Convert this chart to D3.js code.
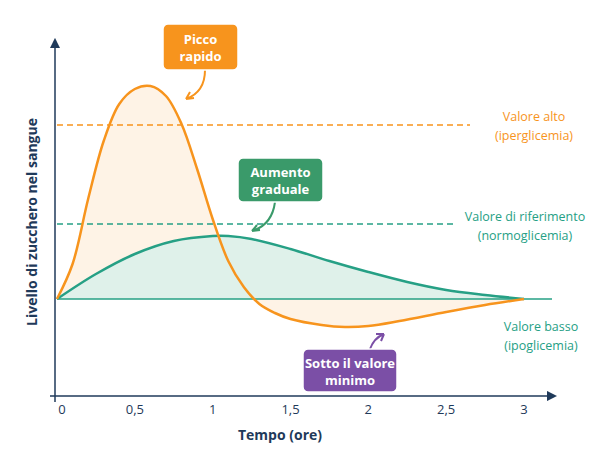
<!DOCTYPE html>
<html><head><meta charset="utf-8">
<script src="https://cdn.jsdelivr.net/npm/d3@7"></script>
<style>body{margin:0;background:#fff}text{font-family:"Open Sans",sans-serif}</style>
</head><body><div class="chart"></div>
<script>
const xTicks = [0, 0.5, 1, 1.5, 2, 2.5, 3];
const xTickLabels = ['0', '0,5', '1', '1,5', '2', '2,5', '3'];
const fastTime = [0, 0.1, 0.2, 0.3, 0.4, 0.5, 0.6, 0.7, 0.8, 0.9, 1.0, 1.1, 1.2, 1.3, 1.4, 1.5, 1.7, 1.85, 2.0, 2.2, 2.5, 2.75, 3];
const fastLevel = [0, 35, 100, 158, 195, 210, 213, 203, 175, 130, 80, 38, 12, -5, -14, -20, -26, -28, -27, -22, -13, -6, 0];
const slowTime = [0, 0.25, 0.5, 0.75, 1.0, 1.1, 1.25, 1.5, 1.75, 2, 2.25, 2.5, 2.75, 3];
const slowLevel = [0, 25, 45, 58, 63, 63, 60, 50, 38, 27, 17, 9, 4, 0];
const highLevel = 174, refLevel = 75;

const W = 602, H = 460;
const orange = '#f7941d', teal = '#26a085', purple = '#7b4fa6', navy = '#1f3a5a';
const svg = d3.select('.chart').append('svg').attr('width', W).attr('height', H);

const x = d3.scaleLinear().domain([0, 3]).range([57, 524]);
const y = d3.scaleLinear().domain([-97, 257]).range([396, 42]);

const fast = fastTime.map((t, i) => ({t, v: fastLevel[i]}));
const slow = slowTime.map((t, i) => ({t, v: slowLevel[i]}));
const line = d3.line().curve(d3.curveCatmullRom).x(d => x(d.t)).y(d => y(d.v));
const area = d3.area().curve(d3.curveCatmullRom).x(d => x(d.t)).y0(y(0)).y1(d => y(d.v));

svg.append('path').datum(fast).attr('d', area).attr('fill', '#fef3e6');
svg.append('path').datum(slow).attr('d', area).attr('fill', '#dff1ea');

// reference lines
svg.append('line').attr('x1', x(0)).attr('x2', 470).attr('y1', y(highLevel)).attr('y2', y(highLevel))
  .attr('stroke', orange).attr('stroke-width', 1.5).attr('stroke-dasharray', '6,4');
svg.append('line').attr('x1', x(0)).attr('x2', 455).attr('y1', y(refLevel)).attr('y2', y(refLevel))
  .attr('stroke', teal).attr('stroke-width', 1.5).attr('stroke-dasharray', '6,4');
svg.append('line').attr('x1', x(0)).attr('x2', 552).attr('y1', y(0)).attr('y2', y(0))
  .attr('stroke', teal).attr('stroke-width', 1.5);

svg.append('path').datum(slow).attr('d', line).attr('fill', 'none').attr('stroke', teal).attr('stroke-width', 2.5);
svg.append('path').datum(fast).attr('d', line).attr('fill', 'none').attr('stroke', orange).attr('stroke-width', 2.5);

// axes
const defs = svg.append('defs');
defs.append('marker').attr('id', 'ar').attr('viewBox', '0 0 10 10').attr('refX', 8).attr('refY', 5)
  .attr('markerWidth', 7).attr('markerHeight', 7).attr('orient', 'auto')
  .append('path').attr('d', 'M0,0L10,5L0,10z').attr('fill', navy);
svg.append('line').attr('x1', 50).attr('x2', 555).attr('y1', 396).attr('y2', 396)
  .attr('stroke', navy).attr('stroke-width', 1.5).attr('marker-end', 'url(#ar)');
svg.append('line').attr('x1', 55).attr('x2', 55).attr('y1', 402).attr('y2', 40)
  .attr('stroke', navy).attr('stroke-width', 1.5).attr('marker-end', 'url(#ar)');

svg.selectAll('.xt').data(xTicks).join('text').attr('class', 'xt')
  .attr('x', (d, i) => i === 0 ? x(d) + 5 : x(d)).attr('y', 414).attr('text-anchor', 'middle')
  .attr('font-size', 13).attr('fill', navy).text((d, i) => xTickLabels[i]);

svg.append('text').attr('x', 280).attr('y', 440).attr('text-anchor', 'middle').attr('font-size', 14)
  .attr('font-weight', 700).attr('fill', navy).text('Tempo (ore)');
svg.append('text').attr('transform', 'translate(37,222) rotate(-90)').attr('text-anchor', 'middle')
  .attr('font-size', 14).attr('font-weight', 700).attr('fill', navy).text('Livello di zucchero nel sangue');

// right labels
function twoLines(lines, cx, cy, color, anchor) {
  const t = svg.append('text').attr('x', cx).attr('y', cy).attr('text-anchor', anchor || 'middle')
    .attr('font-size', 12.5).attr('fill', color);
  lines.forEach((s, i) => t.append('tspan').attr('x', cx).attr('dy', i ? 19 : 0).text(s));
}
twoLines(['Valore alto', '(iperglicemia)'], 534, 121, orange);
twoLines(['Valore di riferimento', '(normoglicemia)'], 525, 221, teal);
twoLines(['Valore basso', '(ipoglicemia)'], 541, 331, teal);

// callouts
function callout(lines, bx, by, bw, bh, color, arrow) {
  svg.append('path').attr('d', arrow).attr('fill', 'none').attr('stroke', color).attr('stroke-width', 2);
  svg.append('rect').attr('x', bx).attr('y', by).attr('width', bw).attr('height', bh).attr('rx', 5)
    .attr('fill', color).attr('stroke', '#fff').attr('stroke-width', 1.5);
  const t = svg.append('text').attr('text-anchor', 'middle').attr('font-size', 13).attr('font-weight', 700).attr('fill', '#fff');
  lines.forEach((s, i) => t.append('tspan').attr('x', bx + bw / 2).attr('y', by + bh / 2 - 3 + i * 17).text(s));
}
callout(['Picco', 'rapido'], 163, 24, 75, 46, orange, 'M205,70 Q205,92 186,99 M186,99 l8,-1 M186,99 l4,-7');
callout(['Aumento', 'graduale'], 238, 158, 85, 44, '#3a9a6a', 'M275,202 Q272,225 252,231 M252,231 l8,-1 M252,231 l5,-6');
callout(['Sotto il valore', 'minimo'], 303, 349, 94, 43, purple, 'M370,349 Q374,338 384,334 M384,334 l-8,-0 M384,334 l-3,7');
</script></body></html>
